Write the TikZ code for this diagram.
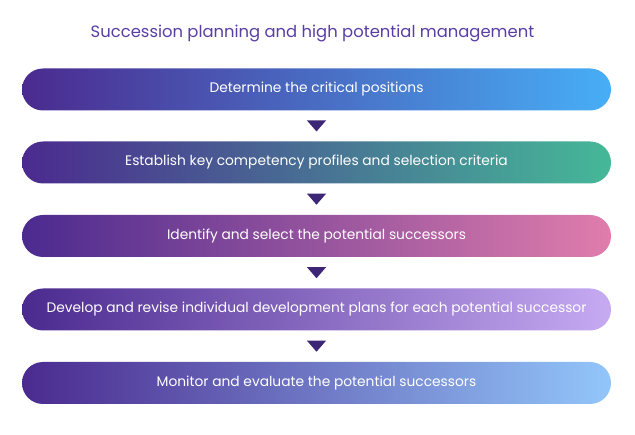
\documentclass[tikz,border=0pt]{standalone}
\usepackage{fontspec}
\setmainfont{Poppins}
\usetikzlibrary{calc}
\definecolor{deep}{HTML}{4B2A8F}
\definecolor{cA}{HTML}{47AEF6}
\definecolor{cB}{HTML}{45B898}
\definecolor{cC}{HTML}{E07DAC}
\definecolor{cD}{HTML}{C6AAF2}
\definecolor{cE}{HTML}{92C6FA}
\definecolor{titlec}{HTML}{5A3EA6}
\definecolor{arrc}{HTML}{3C2675}
\begin{document}
\begin{tikzpicture}[x=1pt,y=-1pt,
  bar/.style={rounded corners=21pt, minimum width=589pt, minimum height=42pt,
    inner sep=0pt, text=white, font=\fontsize{13.8}{16}\selectfont, left color=deep},
  ttl/.style={text=titlec, font=\fontsize{16.4}{19}\selectfont, inner sep=0pt},
  tri/.style={fill=arrc}
]
\fill[white] (0,0) rectangle (635,435);
\useasboundingbox (0,0) rectangle (635,435);
\node[ttl] (t) at (312.5,33) {Succession planning and high potential management};
\node[bar, right color=cA] (b1) at (316.5,89.5) {Determine the critical positions};
\node[bar, right color=cB] (b2) at (316.5,162.5) {Establish key competency profiles and selection criteria};
\node[bar, right color=cC] (b3) at (316.5,236) {Identify and select the potential successors};
\node[bar, right color=cD] (b4) at (316.5,309.5) {Develop and revise individual development plans for each potential successor};
\node[bar, right color=cE] (b5) at (316.5,383) {Monitor and evaluate the potential successors};
\foreach \a/\b in {b1/b2,b2/b3,b3/b4,b4/b5}{
  \coordinate (m\a) at ($(\a.south)!0.5!(\b.north)$);
  \fill[tri] ($(m\a)+(-9.5,-5.5)$) -- ($(m\a)+(9.5,-5.5)$) -- ($(m\a)+(0,5.5)$) -- cycle;
}
\end{tikzpicture}
\end{document}
